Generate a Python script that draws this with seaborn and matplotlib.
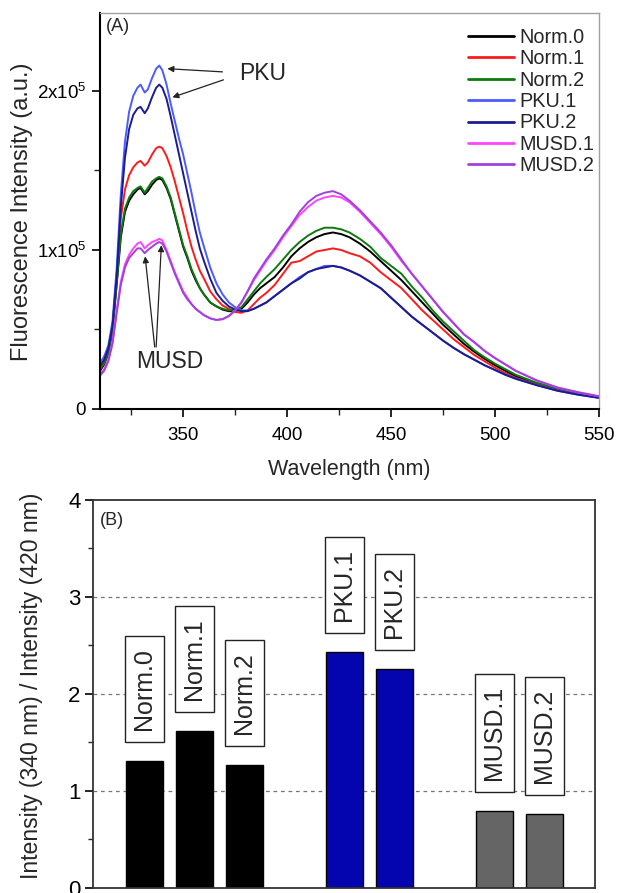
import matplotlib
matplotlib.use("Agg")
import matplotlib.pyplot as plt
from matplotlib.lines import Line2D
from matplotlib.ticker import FixedLocator, MultipleLocator
import pandas as pd
import seaborn as sns

# ---------------- spectra (intensity in units of 1e5 a.u.) ----------------
wavelength = [310, 312, 314, 316, 318, 320, 322, 324, 326, 328,
              329.5, 331.5, 333, 335, 337, 338.5, 340,
              342, 344, 346, 348, 350, 352, 354, 356, 358, 360,
              363, 366, 369, 372, 375, 378, 381, 384, 387, 390,
              394, 398, 402, 406, 410, 414, 418, 422, 426, 430,
              435, 440, 445, 450, 455, 460, 465, 470, 475, 480,
              485, 490, 495, 500, 505, 510, 520, 530, 540, 550]

norm0 = [0.24, 0.28, 0.35, 0.49, 0.78, 1.08, 1.24, 1.31, 1.35, 1.38,
         1.39, 1.35, 1.37, 1.41, 1.44, 1.45, 1.44,
         1.39, 1.32, 1.22, 1.12, 1.02, 0.95, 0.87, 0.81, 0.76, 0.72,
         0.67, 0.645, 0.625, 0.615, 0.615, 0.63, 0.67, 0.72, 0.76, 0.79,
         0.83, 0.89, 0.96, 1.01, 1.05, 1.08, 1.10, 1.11, 1.10, 1.08,
         1.04, 0.99, 0.93, 0.87, 0.81, 0.74, 0.67, 0.60, 0.53, 0.47,
         0.41, 0.36, 0.315, 0.275, 0.24, 0.205, 0.16, 0.125, 0.10, 0.075]

norm1 = [0.25, 0.29, 0.37, 0.52, 0.84, 1.20, 1.38, 1.47, 1.52, 1.55,
         1.56, 1.53, 1.55, 1.60, 1.64, 1.65, 1.64,
         1.59, 1.52, 1.43, 1.33, 1.23, 1.12, 1.02, 0.94, 0.87, 0.82,
         0.74, 0.69, 0.65, 0.63, 0.61, 0.605, 0.62, 0.66, 0.70, 0.73,
         0.78, 0.85, 0.92, 0.93, 0.96, 0.99, 1.00, 1.01, 1.00, 0.98,
         0.96, 0.92, 0.86, 0.81, 0.76, 0.69, 0.62, 0.56, 0.50, 0.44,
         0.39, 0.34, 0.30, 0.26, 0.225, 0.195, 0.155, 0.12, 0.095, 0.072]

norm2 = [0.25, 0.29, 0.36, 0.50, 0.79, 1.10, 1.26, 1.33, 1.37, 1.39,
         1.40, 1.36, 1.39, 1.43, 1.45, 1.46, 1.45,
         1.40, 1.33, 1.23, 1.13, 1.03, 0.96, 0.88, 0.82, 0.76, 0.72,
         0.67, 0.645, 0.63, 0.62, 0.625, 0.64, 0.69, 0.74, 0.79, 0.83,
         0.88, 0.94, 1.00, 1.05, 1.09, 1.12, 1.14, 1.14, 1.13, 1.11,
         1.07, 1.02, 0.95, 0.90, 0.85, 0.77, 0.70, 0.62, 0.55, 0.49,
         0.43, 0.37, 0.325, 0.285, 0.25, 0.215, 0.165, 0.13, 0.10, 0.075]

pku1 = [0.29, 0.33, 0.40, 0.55, 0.88, 1.35, 1.68, 1.87, 1.97, 2.02,
        2.04, 1.99, 2.01, 2.08, 2.14, 2.16, 2.13,
        2.04, 1.92, 1.81, 1.70, 1.60, 1.48, 1.36, 1.23, 1.11, 1.02,
        0.89, 0.79, 0.72, 0.67, 0.64, 0.62, 0.62, 0.63, 0.65, 0.67,
        0.71, 0.75, 0.79, 0.83, 0.86, 0.88, 0.90, 0.90, 0.89, 0.87,
        0.84, 0.80, 0.76, 0.70, 0.64, 0.58, 0.53, 0.48, 0.43, 0.385,
        0.345, 0.31, 0.275, 0.245, 0.215, 0.19, 0.15, 0.115, 0.09, 0.07]

pku2 = [0.27, 0.31, 0.38, 0.52, 0.83, 1.27, 1.58, 1.76, 1.85, 1.89,
        1.90, 1.86, 1.89, 1.96, 2.02, 2.04, 2.02,
        1.95, 1.84, 1.72, 1.60, 1.48, 1.36, 1.24, 1.12, 1.01, 0.93,
        0.82, 0.73, 0.68, 0.645, 0.625, 0.615, 0.615, 0.63, 0.65, 0.67,
        0.71, 0.75, 0.79, 0.82, 0.86, 0.88, 0.89, 0.90, 0.89, 0.87,
        0.84, 0.80, 0.76, 0.70, 0.64, 0.58, 0.53, 0.48, 0.43, 0.385,
        0.345, 0.31, 0.275, 0.245, 0.215, 0.19, 0.15, 0.115, 0.09, 0.07]

musd1 = [0.22, 0.25, 0.31, 0.42, 0.62, 0.80, 0.91, 0.97, 1.01, 1.04,
         1.05, 1.01, 1.03, 1.05, 1.06, 1.07, 1.06,
         1.00, 0.93, 0.86, 0.80, 0.74, 0.70, 0.66, 0.63, 0.61, 0.59,
         0.57, 0.56, 0.565, 0.585, 0.62, 0.67, 0.74, 0.81, 0.87, 0.93,
         1.00, 1.08, 1.15, 1.22, 1.27, 1.31, 1.33, 1.34, 1.33, 1.30,
         1.24, 1.17, 1.10, 1.02, 0.93, 0.85, 0.77, 0.69, 0.61, 0.54,
         0.47, 0.42, 0.365, 0.32, 0.28, 0.24, 0.18, 0.135, 0.105, 0.08]

musd2 = [0.21, 0.24, 0.30, 0.41, 0.60, 0.78, 0.89, 0.95, 0.98, 1.01,
         1.01, 0.98, 1.00, 1.02, 1.04, 1.05, 1.04,
         0.99, 0.92, 0.85, 0.79, 0.73, 0.69, 0.66, 0.63, 0.61, 0.59,
         0.57, 0.56, 0.565, 0.585, 0.62, 0.67, 0.74, 0.82, 0.88, 0.94,
         1.01, 1.09, 1.16, 1.24, 1.30, 1.34, 1.36, 1.37, 1.35, 1.31,
         1.25, 1.18, 1.11, 1.03, 0.94, 0.85, 0.77, 0.69, 0.61, 0.54,
         0.47, 0.42, 0.365, 0.32, 0.28, 0.24, 0.18, 0.135, 0.105, 0.08]

sample_names = ["Norm.0", "Norm.1", "Norm.2", "PKU.1", "PKU.2", "MUSD.1", "MUSD.2"]
sample_spectra = [norm0, norm1, norm2, pku1, pku2, musd1, musd2]
sample_colors = ["#000000", "#ff1a1a", "#0e7a0e", "#4a5cff", "#1c1c8e", "#ff44ff", "#a040e0"]

# ---------------- intensity ratio I(340)/I(420) ----------------
ratio_labels = ["Norm.0", "Norm.1", "Norm.2", "PKU.1", "PKU.2", "MUSD.1", "MUSD.2"]
ratio_values = [1.31, 1.62, 1.27, 2.43, 2.26, 0.79, 0.76]
ratio_groups = ["Norm", "Norm", "Norm", "PKU", "PKU", "MUSD", "MUSD"]
group_colors = {"Norm": "#000000", "PKU": "#0505b0", "MUSD": "#656565"}

SCALE = 1e5

sns.set_theme(style="ticks")
plt.rcParams["font.family"] = ["Liberation Sans", "DejaVu Sans"]
plt.rcParams["mathtext.default"] = "regular"

fig = plt.figure(figsize=(6.17, 8.93), dpi=100)
ax1 = fig.add_axes([0.1621, 0.5420, 0.8087, 0.4434])
ax2 = fig.add_axes([0.1507, 0.0056, 0.8136, 0.4345])

# ---------------- panel A: emission spectra ----------------
rows = []
for name, vals in zip(sample_names, sample_spectra):
    for w, v in zip(wavelength, vals):
        rows.append({"Wavelength": w, "Intensity": v * SCALE, "Sample": name})
spectra = pd.DataFrame(rows)

sns.lineplot(data=spectra, x="Wavelength", y="Intensity", hue="Sample",
             hue_order=sample_names, palette=dict(zip(sample_names, sample_colors)),
             linewidth=1.4, legend=False, ax=ax1)

ax1.set_xlim(310, 550)
ax1.set_ylim(0, 2.49 * SCALE)
ax1.xaxis.set_major_locator(FixedLocator([350, 400, 450, 500, 550]))
ax1.xaxis.set_minor_locator(FixedLocator([325, 375, 425, 475, 525]))
ax1.yaxis.set_major_locator(FixedLocator([0, 1 * SCALE, 2 * SCALE]))
ax1.yaxis.set_minor_locator(FixedLocator([0.5 * SCALE, 1.5 * SCALE]))
ax1.set_yticklabels(["0", "1x10$^5$", "2x10$^5$"])
ax1.tick_params(axis="both", which="major", direction="out", length=6, width=1.2,
                labelsize=13.5, colors="black")
ax1.tick_params(axis="x", which="major", pad=7)
ax1.tick_params(axis="y", which="major", pad=4)
ax1.tick_params(axis="both", which="minor", direction="out", length=4, width=1.0)
ax1.set_xlabel("Wavelength (nm)", fontsize=15.5, labelpad=11)
ax1.set_ylabel("Fluorescence Intensity (a.u.)", fontsize=17)
ax1.yaxis.set_label_coords(-0.134, 0.497)
for side in ["left", "bottom"]:
    ax1.spines[side].set_color("black")
    ax1.spines[side].set_linewidth(1.5)
for side in ["top", "right"]:
    ax1.spines[side].set_visible(True)
    ax1.spines[side].set_color("#a0a0a0")
    ax1.spines[side].set_linewidth(1.0)

handles = [Line2D([], [], color=c, lw=2.0) for c in sample_colors]
ax1.legend(handles, sample_names, loc="upper right", bbox_to_anchor=(1.02, 1.0),
           frameon=False, fontsize=14.3, handlelength=2.3, handletextpad=0.25,
           labelspacing=0.12, borderaxespad=0.55, borderpad=0.2)

ax1.text(0.012, 0.965, "(A)", transform=ax1.transAxes, fontsize=13, ha="left", va="center")

arrow_kw = dict(arrowstyle="-|>", color="#222222", lw=0.9, mutation_scale=9,
                shrinkA=0, shrinkB=0)
ax1.text(376.7, 2.11 * SCALE, "PKU", fontsize=16.5, ha="left", va="center")
ax1.annotate("", xy=(342.4, 2.14 * SCALE), xytext=(368.9, 2.12 * SCALE), arrowprops=arrow_kw)
ax1.annotate("", xy=(344.8, 1.96 * SCALE), xytext=(369.4, 2.07 * SCALE), arrowprops=arrow_kw)
ax1.text(327.4, 0.30 * SCALE, "MUSD", fontsize=16.5, ha="left", va="center")
ax1.annotate("", xy=(331.7, 0.96 * SCALE), xytext=(336.3, 0.39 * SCALE), arrowprops=arrow_kw)
ax1.annotate("", xy=(339.5, 1.03 * SCALE), xytext=(337.0, 0.39 * SCALE), arrowprops=arrow_kw)

# ---------------- panel B: ratio bars ----------------
bar_order = ["Norm.0", "Norm.1", "Norm.2", "", "PKU.1", "PKU.2", " ", "MUSD.1", "MUSD.2"]
ratios = pd.DataFrame({"Sample": ratio_labels, "Ratio": ratio_values, "Group": ratio_groups})

for level in [1, 2, 3]:
    ax2.axhline(level, color="#777777", lw=0.9, ls=(0, (3, 3)), zorder=0)

sns.barplot(data=ratios, x="Sample", y="Ratio", hue="Group", order=bar_order,
            palette=group_colors, saturation=1, dodge=False, width=0.73,
            edgecolor="black", linewidth=1.0, legend=False, ax=ax2, zorder=2)

for label, val in zip(ratio_labels, ratio_values):
    xpos = bar_order.index(label)
    ax2.text(xpos, val + 0.32, label, rotation=90, ha="center", va="bottom",
             fontsize=18, zorder=3,
             bbox=dict(boxstyle="square,pad=0.48", fc="white", ec="#222222", lw=1.0,
                       mutation_aspect=0.6))

ax2.set_xlim(-1.03, 9.01)
ax2.set_ylim(0, 4)
ax2.set_xticks([])
ax2.set_xlabel("")
ax2.yaxis.set_major_locator(MultipleLocator(1))
ax2.yaxis.set_minor_locator(MultipleLocator(0.5))
ax2.tick_params(axis="y", which="major", direction="out", length=6, width=1.2,
                labelsize=16, pad=3, colors="black")
ax2.tick_params(axis="y", which="minor", direction="out", length=3.5, width=1.0)
ax2.set_ylabel("Intensity (340 nm) / Intensity (420 nm)", fontsize=16.6)
ax2.yaxis.set_label_coords(-0.10, 0.52)
for side in ["left", "bottom", "top", "right"]:
    ax2.spines[side].set_visible(True)
    ax2.spines[side].set_color("#333333")
    ax2.spines[side].set_linewidth(1.3)

ax2.text(0.014, 0.948, "(B)", transform=ax2.transAxes, fontsize=13, ha="left", va="center")

fig.savefig("out.png", dpi=100)
